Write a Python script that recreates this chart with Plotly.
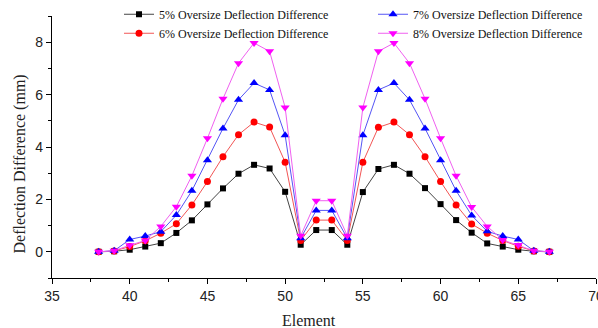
import plotly.graph_objects as go

elements = [38, 39, 40, 41, 42, 43, 44, 45, 46, 47, 48, 49, 50, 51, 52,
            53, 54, 55, 56, 57, 58, 59, 60, 61, 62, 63, 64, 65, 66, 67]

s5 = [0.00, 0.02, 0.08, 0.20, 0.33, 0.72, 1.20, 1.81, 2.42, 2.98, 3.32, 3.18, 2.29, 0.27, 0.83,
      0.83, 0.27, 2.28, 3.16, 3.32, 2.98, 2.43, 1.82, 1.21, 0.73, 0.32, 0.20, 0.08, 0.02, 0.00]
s6 = [0.00, 0.03, 0.20, 0.42, 0.71, 1.07, 1.79, 2.68, 3.63, 4.47, 4.95, 4.76, 3.42, 0.43, 1.21,
      1.21, 0.43, 3.42, 4.75, 4.95, 4.47, 3.63, 2.68, 1.79, 1.06, 0.71, 0.43, 0.21, 0.03, 0.00]
s7 = [0.00, 0.04, 0.47, 0.60, 0.77, 1.40, 2.33, 3.49, 4.71, 5.80, 6.44, 6.18, 4.45, 0.52, 1.58,
      1.58, 0.52, 4.45, 6.18, 6.44, 5.80, 4.71, 3.49, 2.33, 1.39, 0.78, 0.60, 0.47, 0.04, 0.00]
s8 = [0.00, 0.04, 0.25, 0.43, 0.97, 1.72, 2.90, 4.33, 5.84, 7.20, 7.97, 7.65, 5.51, 0.61, 1.95,
      1.95, 0.61, 5.51, 7.65, 7.97, 7.20, 5.84, 4.33, 2.90, 1.71, 0.97, 0.45, 0.26, 0.04, 0.00]

names = ["5% Oversize Deflection Difference", "6% Oversize Deflection Difference",
         "7% Oversize Deflection Difference", "8% Oversize Deflection Difference"]
series = [s5, s6, s7, s8]
colors = ["#000000", "#ff0000", "#0000ff", "#ff00ff"]
line_colors = ["#444444", "#f25555", "#5555f5", "#f060f0"]
symbols = ["square", "circle", "triangle-up", "triangle-down"]
sizes = [6, 7, 8, 8]
legends = ["legend", "legend", "legend2", "legend2"]

fig = go.Figure()
for nm, ys, c, lc, sym, sz, lg in zip(names, series, colors, line_colors, symbols, sizes, legends):
    fig.add_trace(go.Scatter(
        x=elements, y=ys, name=nm, mode="lines+markers",
        line=dict(color=lc, width=1),
        marker=dict(symbol=sym, size=sz, color=c, line=dict(width=0)),
        legend=lg,
    ))

tickfont = dict(family="Liberation Sans, Arial, sans-serif", size=14, color="#222222")
serif = "Liberation Serif, Times New Roman, serif"

fig.update_layout(
    width=598, height=328,
    margin=dict(l=52, r=2, t=16, b=50, autoexpand=False),
    paper_bgcolor="white", plot_bgcolor="white",
    showlegend=True,
    legend=dict(x=(119 - 52) / 544, xanchor="left", y=1.062, yanchor="top",
                font=dict(family=serif, size=12, color="#111111"),
                bgcolor="rgba(0,0,0,0)", tracegroupgap=0, itemwidth=30),
    legend2=dict(x=(373 - 52) / 544, xanchor="left", y=1.062, yanchor="top",
                 font=dict(family=serif, size=12, color="#111111"),
                 bgcolor="rgba(0,0,0,0)", tracegroupgap=0, itemwidth=30),
    xaxis=dict(range=[35, 70], tick0=35, dtick=5, ticks="outside", ticklen=5, tickwidth=1,
               tickcolor="black", showline=True, linecolor="black", linewidth=1.3,
               showgrid=False, zeroline=False, tickfont=tickfont, ticklabeloverflow="allow",
               automargin=False,
               minor=dict(tick0=35, dtick=2.5, ticks="outside", ticklen=3, tickwidth=1,
                          tickcolor="black", showgrid=False)),
    yaxis=dict(range=[-1, 9], tick0=0, dtick=2, ticks="outside", ticklen=5, tickwidth=1,
               tickcolor="black", showline=True, linecolor="black", linewidth=1.3,
               showgrid=False, zeroline=False, tickfont=tickfont, automargin=False,
               minor=dict(tick0=-1, dtick=1, ticks="outside", ticklen=3, tickwidth=1,
                          tickcolor="black", showgrid=False)),
    annotations=[
        dict(text="Deflection Difference (mm)", xref="paper", yref="paper",
             x=(19.5 - 52) / 544, y=(278 - 164) / 262, xanchor="center", yanchor="middle",
             textangle=-90, showarrow=False, font=dict(family=serif, size=16, color="#222222")),
        dict(text="Element", xref="paper", yref="paper",
             x=(309 - 52) / 544, y=(278 - 320) / 262, xanchor="center", yanchor="middle",
             showarrow=False, font=dict(family=serif, size=16, color="#222222")),
    ],
)

fig.write_html("out.html")
